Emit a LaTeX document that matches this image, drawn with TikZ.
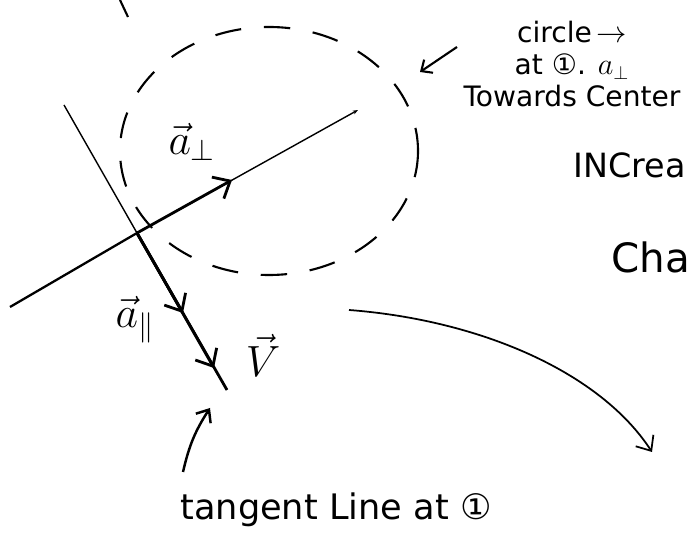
\documentclass[tikz,border=0pt]{standalone}
\usepackage{amsmath,amssymb}
\usepackage{fontspec}
\usepackage{tikz}
\usetikzlibrary{arrows.meta,positioning,calc}
\newfontfamily\handfont{DejaVu Sans}
\newcommand{\ptone}{{\handfont ①}}
\newcommand{\handsize}[1]{\handfont\fontsize{#1}{1.15\dimexpr#1pt\relax}\selectfont}

\begin{document}
\begin{tikzpicture}[x=0.02cm,y=-0.02cm,
		thinline/.style={line width=0.8pt},
		vecline/.style={line width=1.6pt,-{Straight Barb[length=8pt,width=14pt]}},
		dashring/.style={line width=1.2pt,dash pattern=on 15pt off 13pt},
		mathlbl/.style={font=\fontsize{24}{28}\selectfont}]
		\useasboundingbox (0,0) rectangle (691,543);
		% orbit circle at point 1
		\draw[dashring] (269,151) ellipse [x radius=149,y radius=124];
		\coordinate (stubA) at (120,0); \coordinate (stubB) at (128,17);
		\draw[line width=1.2pt] (stubA) -- (stubB);
		% radial and tangent lines
		\coordinate (P) at (137,233);
		\coordinate (radA) at (10,307); \coordinate (radB) at (358,110);
		\coordinate (tanA) at (64,105); \coordinate (tanB) at (227,390);
		\draw[line width=1.3pt] (radA) -- (P);
		\draw[thinline,-{Stealth[length=3pt]}] (P) -- (radB);
		\draw[thinline] (tanA) -- (P);
		\draw[line width=1.6pt] (P) -- (tanB);
		\coordinate (aperp) at (232,180);
		\coordinate (apar) at (183,313);
		\coordinate (vtip) at (214,368);
		\draw[vecline] (P) -- (aperp);
		\draw[vecline] (P) -- (apar);
		\draw[vecline] (P) -- (vtip);
		\node[mathlbl] (lblperp) at (192,142) {$\vec{a}_{\perp}$};
		\node[mathlbl] (lblpar) at (135,320) {$\vec{a}_{\parallel}$};
		\node[mathlbl] (lblv) at (263,355) {$\vec{V}$};
		% path of motion
		\coordinate (pathA) at (349,310); \coordinate (pathB) at (652,452);
		\draw[line width=1pt,-{Straight Barb[length=7pt,width=12pt]}] (pathA) .. controls (480,320) and (600,372) .. (pathB);
		% notes
		\node[font=\handsize{16},align=center] (note) at (572,64) {circle\,$\rightarrow$\\at \ptone. $a_{\perp}$\\Towards Center};
		\coordinate (noteA) at (457,47); \coordinate (ringpt) at (420,72);
		\draw[line width=1.2pt,-{Straight Barb[length=5pt,width=9pt]}] (noteA) -- (ringpt);
		\node[font=\handsize{19},anchor=west,inner sep=0pt] (incr) at (573,165) {INCrea};
		\node[font=\handsize{23},anchor=west,inner sep=0pt] (cha) at (611,257) {Cha};
		\node[font=\handsize{20}] (tanlbl) at (336,510) {tangent Line at \ptone};
		\coordinate (capA) at (183,472); \coordinate (capB) at (210,408);
		\draw[line width=1.4pt,-{Straight Barb[length=6pt,width=10pt]}] (capA) to[bend left=10] (capB);
\end{tikzpicture}
\end{document}
